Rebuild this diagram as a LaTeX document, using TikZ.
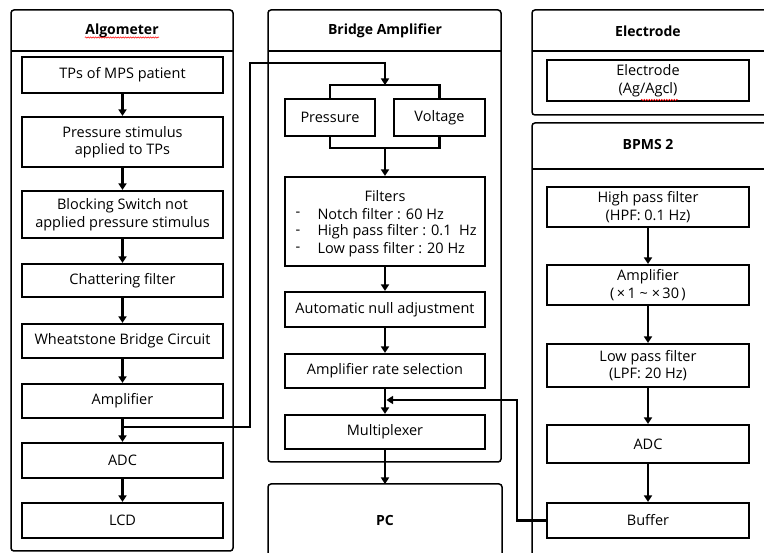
\documentclass[tikz,border=0pt]{standalone}
\usepackage{fontspec}
\setmainfont{Open Sans}
\usetikzlibrary{arrows.meta,decorations.pathmorphing,calc}
\begin{document}
\begin{tikzpicture}[x=1pt,y=-1pt,
  font=\fontsize{14.5}{17.5}\selectfont,
  cont/.style={draw, line width=1.5pt, rounded corners=3pt},
  divl/.style={draw, line width=1.5pt},
  ttl/.style={font=\fontsize{14}{17}\selectfont\bfseries},
  bx/.style={draw, line width=2.1pt, align=center, inner sep=0pt},
  lw/.style={bx, minimum width=201pt},
  mw/.style={bx, minimum width=200pt},
  rw/.style={bx, minimum width=202pt},
  arr/.style={line width=2.5pt, -{Triangle[width=8pt,length=6.5pt]}},
  ln/.style={line width=2.5pt},
  squig/.style={red, line width=0.5pt, decorate, decoration={snake, segment length=2.5pt, amplitude=0.7pt}}
]
\useasboundingbox (0,0) rectangle (764,553);
\clip (0,0) rectangle (764,553);
\fill[white] (0,0) rectangle (764,553);

% containers
\draw[cont] (11,10) rectangle (233,551);
\draw[divl] (11,51) -- (233,51);
\draw[cont] (268,10) rectangle (501,462);
\draw[divl] (268,51) -- (501,51);
\draw[cont] (268,484) rectangle (502,580);
\draw[cont] (532,10) rectangle (790,115);
\draw[divl] (532,51) -- (790,51);
\draw[cont] (532,123) rectangle (790,580);
\draw[divl] (532,169) -- (790,169);

% titles
\node[ttl] (talg) at (122,31) {Algometer};
\draw[squig] ($(talg.south west)+(3,-4)$) -- ($(talg.south east)+(-3,-4)$);
\node[ttl] (tbr) at (385,31) {Bridge Amplifier};
\node[ttl] (tel) at (648,31) {Electrode};
\node[ttl] (tbp) at (648,145) {BPMS 2};
\node[ttl] (tpc) at (385,520) {PC};

% Algometer column
\node[lw, minimum height=36pt] (tps) at (122.5,75) {TPs of MPS patient};
\node[lw, minimum height=50pt] (pst) at (122.5,142) {Pressure stimulus\\applied to TPs};
\node[lw, minimum height=47pt] (blk) at (122.5,214.5) {Blocking Switch not\\applied pressure stimulus};
\node[lw, minimum height=33pt] (chat) at (122.5,280.5) {Chattering filter};
\node[lw, minimum height=34pt] (wheat) at (122.5,341) {Wheatstone Bridge Circuit};
\node[lw, minimum height=34pt] (amp) at (122.5,401) {Amplifier};
\node[lw, minimum height=35pt] (adc) at (122.5,460.5) {ADC};
\node[lw, minimum height=35pt] (lcd) at (122.5,520.5) {LCD};

\draw[arr] (tps) -- (pst);
\draw[arr] (pst) -- (blk);
\draw[arr] (blk) -- (chat);
\draw[arr] (chat) -- (wheat);
\draw[arr] (wheat) -- (amp);
\draw[arr] (amp) -- (adc);
\draw[arr] (adc) -- (lcd);

% Bridge amplifier column
\node[bx, minimum width=90pt, minimum height=37pt] (press) at (330,117.5) {Pressure};
\node[bx, minimum width=91pt, minimum height=37pt] (volt) at (439.5,117.5) {Voltage};
\node[mw, minimum height=89pt] (filt) at (385,221.5) {};
\node (ftitle) at (385,196) {Filters};
\node[anchor=west] (f1d) at (292,214) {-};
\node[anchor=west] (f1) at (314,214) {Notch filter : 60 Hz};
\node[anchor=west] (f2d) at (292,232) {-};
\node[anchor=west] (f2) at (314,232) {High pass filter : 0.1~~Hz};
\node[anchor=west] (f3d) at (292,249.5) {-};
\node[anchor=west] (f3) at (314,249.5) {Low pass filter : 20 Hz};
\node[mw, minimum height=35pt] (nullb) at (385,309.5) {Automatic null adjustment};
\node[mw, minimum height=34pt] (rate) at (385,371) {Amplifier rate selection};
\node[mw, minimum height=34pt] (mux) at (385,432) {Multiplexer};

\coordinate (brt) at (385,85);
\coordinate (brb) at (385,148);
\draw[ln] (press.north) -- (press.north |- brt) -- (volt.north |- brt) -- (volt.north);
\draw[ln] (press.south) -- (press.south |- brb) -- (volt.south |- brb) -- (volt.south);
\draw[arr] (brb) -- (filt);
\draw[arr] (filt) -- (nullb);
\draw[arr] (nullb) -- (rate);
\draw[arr] (rate) -- (mux);
\coordinate (pctop) at (385,484);
\draw[arr] (mux) -- (pctop);

% link from algometer
\coordinate (tap) at (122.5,427);
\coordinate (lk1) at (250,427);
\coordinate (lk2) at (250,63);
\coordinate (lk3) at (385,63);
\draw[ln] (tap) -- (lk1) -- (lk2) -- (lk3);
\draw[arr] (385,61.8) -- (brt);

% right column
\node[rw, minimum height=41pt] (elec) at (648,80.5) {Electrode\\(Ag/Agcl)};
\draw[squig] (641,100) -- (678,100);
\node[rw, minimum height=40pt] (hpf) at (648,207) {High pass filter\\(HPF: 0.1 Hz)};
\node[rw, minimum height=40pt] (amp2) at (648,285) {Amplifier\\(\,×\,1 \textasciitilde{} ×\,30\,)};
\node[rw, minimum height=43pt] (lpf) at (648,365.5) {Low pass filter\\(LPF: 20 Hz)};
\node[rw, minimum height=38pt] (adc2) at (648,444) {ADC};
\node[rw, minimum height=35pt] (buf) at (648,520.5) {Buffer};

\draw[arr] (hpf) -- (amp2);
\draw[arr] (amp2) -- (lpf);
\draw[arr] (lpf) -- (adc2);
\draw[arr] (adc2) -- (buf);

% feedback from buffer
\coordinate (fb1) at (517,520.5);
\coordinate (fb2) at (517,400);
\coordinate (fbm) at (386.5,400);
\draw[arr] (buf.west) -- (fb1) -- (fb2) -- (fbm);
\end{tikzpicture}
\end{document}
